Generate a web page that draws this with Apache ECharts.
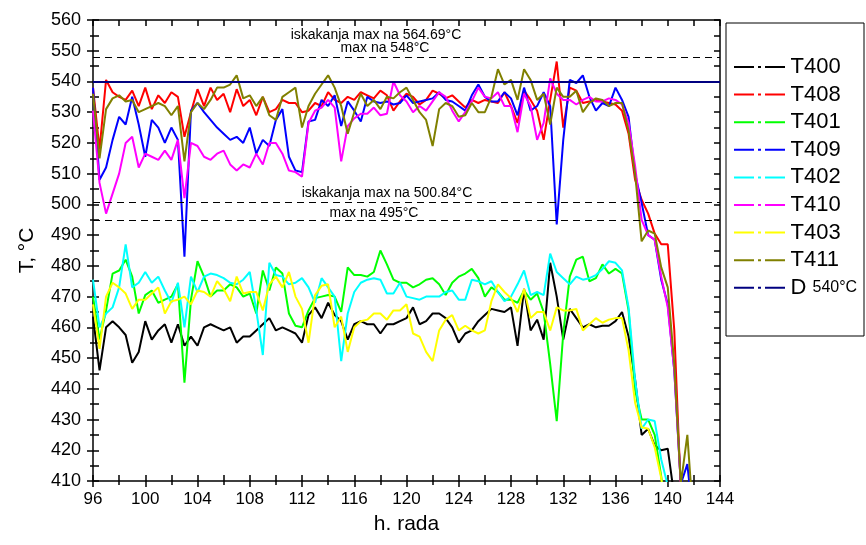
<!DOCTYPE html>
<html>
<head>
<meta charset="utf-8">
<script src="https://cdn.jsdelivr.net/npm/echarts@6/dist/echarts.min.js"></script>
<style>
  html, body { margin: 0; padding: 0; background: #fff; }
  #chart { width: 866px; height: 545px; }
</style>
</head>
<body>
<div id="chart"></div>
<script>
// hours of operation (x)
const hours = [
  96, 96.5, 97, 97.5, 98, 98.5, 99, 99.5, 100, 100.5,
  101, 101.5, 102, 102.5, 103, 103.5, 104, 104.5, 105, 105.5,
  106, 106.5, 107, 107.5, 108, 108.5, 109, 109.5, 110, 110.5,
  111, 111.5, 112, 112.5, 113, 113.5, 114, 114.5, 115, 115.5,
  116, 116.5, 117, 117.5, 118, 118.5, 119, 119.5, 120, 120.5,
  121, 121.5, 122, 122.5, 123, 123.5, 124, 124.5, 125, 125.5,
  126, 126.5, 127, 127.5, 128, 128.5, 129, 129.5, 130, 130.5,
  131, 131.5, 132, 132.5, 133, 133.5, 134, 134.5, 135, 135.5,
  136, 136.5, 137, 137.5, 138, 138.5, 139, 139.5, 140, 140.5,
  141, 141.5, 142
]

const t400 = [
  463.5, 446, 460, 462, 460, 457.5, 448.5, 452, 462, 456,
  459, 461, 455, 461, 454, 457, 454, 460, 461, 460,
  459, 460, 455, 457, 457, 459, 461, 463, 459, 460,
  459, 458, 455, 464, 466.5, 463, 468, 464, 462, 456,
  461, 462, 461, 461, 458, 461, 461, 462, 463, 466.5,
  461, 462, 464.5, 464.5, 463, 460, 455, 458, 459, 462,
  464, 466, 465.5, 465, 466.5, 454, 472.5, 459, 462.5, 456,
  481, 470, 456, 466, 463, 460, 461, 460, 460.5, 460.5,
  462, 465, 457, 443, 425, 427, 421.5, 420, 420.5, 405,
  395, null, null
]
const t408 = [
  538, 518, 540.5, 536.5, 535, 534, 537, 532, 538, 531,
  535.5, 533, 536.5, 535, 522, 530, 537.5, 532, 538, 534,
  536, 530, 537.5, 532, 534, 529, 535, 530, 531, 534,
  533, 533, 530, 530.5, 533, 532, 536.5, 534, 533, 535,
  534, 536.5, 535.5, 534.5, 537, 535.5, 530.5, 533.5, 536, 535,
  532.5, 534, 537, 536, 534.5, 535.5, 533.5, 531.5, 534, 533,
  534, 533.5, 533, 536.5, 532, 526.5, 537, 534, 530.5, 521,
  534, 546.5, 525, 538, 537, 533, 533.5, 534, 533.5, 533,
  532.5, 530.5, 523, 508, 501.5, 497, 490.5, 487, 487, 459,
  407, 385, null
]
const t401 = [
  470, 456, 465.5, 477.5, 478.5, 482, 476.5, 464.5, 470.5, 472,
  468, 469, 470, 474, 442, 469, 481.5, 476.5, 470, 472,
  472, 474, 473, 470, 471, 464.5, 478.5, 472, 479.5, 477.5,
  464.5, 460.5, 460, 465.5, 469.5, 470, 470.5, 470, 465, 479.5,
  477, 477, 476.5, 478, 485, 480.5, 475.5, 474.5, 474.5, 473,
  474, 475.5, 476, 474, 470.5, 474.5, 476.5, 477.5, 479, 476,
  470, 473, 471.5, 469, 469, 468, 472, 469, 471, 465,
  448, 429.5, 458, 476.5, 482, 483, 475, 476, 480.5, 477.5,
  479, 477.5, 465.5, 439.5, 430, 430, 425, 411.5, 395, null,
  null, null, null
]
const t409 = [
  538, 508, 512, 521, 528.5, 526, 535, 526, 515.5, 527.5,
  525, 520, 525, 521, 483, 530.5, 533, 530, 527.5, 525,
  523, 521, 522, 520, 525, 516.5, 521, 519, 527.5, 531,
  515.5, 511, 510.5, 527, 527.5, 534, 532, 535.5, 525.5, 533.5,
  530.5, 527, 535, 533.5, 533, 533.5, 532.5, 533, 535.5, 533,
  533.5, 534, 534.5, 536.5, 534, 533.5, 532, 530.5, 535.5, 539,
  535, 533.5, 533.5, 536.5, 534.5, 529, 538, 530.5, 532, 536.5,
  532, 493.5, 521, 540.5, 539.5, 542, 535, 530.5, 533, 532,
  538, 534, 528.5, 510, 500.5, 490, 488.5, 475.5, 467.5, 446,
  409, 415.5, 395
]
const t402 = [
  475.5, 460, 464.5, 466.5, 473, 487, 473, 474.5, 478, 474.5,
  476.5, 472, 468, 474.5, 460, 476.5, 471.5, 476.5, 477.5, 477,
  476, 474.5, 474, 475.5, 478, 465.5, 451, 481, 477, 476.5,
  474, 474.5, 476, 473, 468, 476, 473, 470, 449, 464.5,
  471.5, 474.5, 475.5, 476, 475.5, 471, 471, 474.5, 470, 469.5,
  469, 470, 470, 470, 471.5, 472, 469, 469, 475.5, 475,
  474, 475, 471.5, 468.5, 470, 474, 478.5, 470.5, 471.5, 470.5,
  484, 478, 476, 474, 476.5, 475.5, 476, 477, 479, 481.5,
  481, 478.5, 466.5, 443, 427, 430, 429.5, 417, 408.5, 395,
  null, null, null
]
const t410 = [
  530.5, 507, 497, 503.5, 510, 520, 522, 512, 516.5, 515.5,
  514.5, 517.5, 514.5, 521, 502, 520, 519, 515.5, 514.5, 516.5,
  517.5, 513, 511, 513, 512, 516.5, 513, 520, 520, 516.5,
  511, 510.5, 509, 526.5, 530.5, 531.5, 534, 531.5, 514, 525.5,
  528, 529.5, 529.5, 531.5, 529, 529.5, 540, 535.5, 533.5, 530,
  532, 530.5, 533.5, 536.5, 535, 530.5, 527, 530, 533.5, 538,
  535, 534.5, 536.5, 532, 532, 523.5, 536, 532, 521, 526.5,
  541, 536, 534, 534, 532.5, 534, 535, 533.5, 533.5, 534.5,
  534, 532.5, 526.5, 512.5, 495, 490, 488.5, 476.5, 466.5, 446,
  409, 395, null
]
const t403 = [
  467.5, 453, 470, 474.5, 473, 471, 466, 469, 469, 471,
  473, 464.5, 468.5, 469, 470, 467.5, 472, 471.5, 470, 475,
  472.5, 468.5, 476.5, 471, 471.5, 471.5, 465.5, 474, 476.5, 473,
  478, 470, 466, 455, 470.5, 473.5, 474, 460, 463.5, 452,
  460, 462, 462.5, 464.5, 464.5, 462.5, 465.5, 465.5, 467.5, 458,
  457, 452, 449, 459, 462.5, 464, 459, 460.5, 459, 458,
  459, 468.5, 474, 471.5, 469.5, 465, 472.5, 463, 465, 465,
  459, 466.5, 465.5, 465.5, 466, 459, 461, 463, 461.5, 462.5,
  463, 463, 452.5, 435.5, 427.5, 427, 421, 411, 395, null,
  null, null, null
]
const t411 = [
  536, 515, 531, 534.5, 535.5, 533.5, 534, 530, 531, 532,
  533, 532, 529, 532, 514, 530, 533, 531, 534, 538,
  538, 539, 542, 534.5, 535.5, 532, 535, 529, 527.5, 535,
  536.5, 538, 525, 532, 536, 539, 542, 538, 532, 523,
  530, 536, 532, 534, 531, 535, 534.5, 536.5, 538, 534,
  530, 527.5, 519, 531, 533, 532, 528.5, 529, 533, 530,
  530, 535, 544, 539, 540.5, 534, 544, 540.5, 534, 536,
  526, 538, 535, 535, 537, 530, 533, 534.5, 534, 532,
  533, 533, 524, 510, 488, 491.5, 490.5, 479.5, 473, 448,
  409, 425, 395
]

// design temperature and the dashed limit lines
const designTemp = 540
const limitLines = [548, 500.84, 495]
const notes = ['iskakanja max na 564.69°C', 'max na 548°C', 'iskakanja max na 500.84°C', 'max na 495°C']

const seriesDefs = [
  { name: 'T400', data: t400, color: '#000000' },
  { name: 'T408', data: t408, color: '#ff0000' },
  { name: 'T401', data: t401, color: '#00ff00' },
  { name: 'T409', data: t409, color: '#0000ff' },
  { name: 'T402', data: t402, color: '#00ffff' },
  { name: 'T410', data: t410, color: '#ff00ff' },
  { name: 'T403', data: t403, color: '#ffff00' },
  { name: 'T411', data: t411, color: '#808000' }
]

const font = 'Liberation Sans, Arial, sans-serif'
const chart = echarts.init(document.getElementById('chart'))

const xBase = { type: 'value', min: 96, max: 144, interval: 4, splitLine: { show: false } }
const yBase = { type: 'value', min: 410, max: 560, interval: 10, splitLine: { show: false } }
const frameLine = { show: true, onZero: false, lineStyle: { color: '#000', width: 1.5 } }
const tickStyle = { color: '#000', width: 1.5 }

const series = seriesDefs.map(s => ({
  name: s.name,
  type: 'line',
  data: hours.map((h, i) => [h, s.data[i]]),
  showSymbol: false,
  symbol: 'none',
  color: s.color,
  lineStyle: { color: s.color, width: 2 },
  clip: true
}))

series.push({
  name: 'D',
  type: 'line',
  data: [],
  color: '#000080',
  markLine: {
    silent: true,
    symbol: 'none',
    label: { show: false },
    data: [
      { yAxis: designTemp, lineStyle: { color: '#000080', width: 2, type: 'solid' } }
    ].concat(limitLines.map(v => ({
      yAxis: v,
      lineStyle: { color: '#000', width: 1, type: [7, 5] }
    })))
  }
})

const noteStyle = text => ({ text: text, font: '14px ' + font, fill: '#000', textAlign: 'center', textVerticalAlign: 'middle' })

const option = {
  animation: false,
  backgroundColor: '#fff',
  grid: { left: 93, right: 146, top: 20, bottom: 64 },
  legend: {
    data: ['T400', 'T408', 'T401', 'T409', 'T402', 'T410', 'T403', 'T411', 'D'],
    orient: 'vertical',
    left: 726,
    top: 22,
    padding: [34, 4, 18, 8],
    itemGap: 5.6,
    itemWidth: 52,
    itemHeight: 2,
    icon: 'path://M0,0H20V2H0Z M24,0H27V2H24Z M31,0H51V2H31Z',
    borderWidth: 0,
    selectedMode: false,
    formatter: name => name === 'D' ? 'D {s|540°C}' : name,
    textStyle: {
      fontFamily: font,
      fontSize: 22,
      lineHeight: 22,
      color: '#000',
      rich: { s: { fontFamily: font, fontSize: 16, color: '#000' } }
    }
  },
  xAxis: [
    Object.assign({}, xBase, {
      position: 'bottom',
      axisLine: frameLine,
      axisTick: { inside: true, length: 6, lineStyle: tickStyle },
      minorTick: { show: true, splitNumber: 2, length: 6, lineStyle: tickStyle },
      axisLabel: { fontFamily: font, fontSize: 17, color: '#000', margin: 10 },
      name: 'h. rada',
      nameLocation: 'middle',
      nameGap: 33,
      nameTextStyle: { fontFamily: font, fontSize: 21, color: '#000' }
    }),
    Object.assign({}, xBase, {
      position: 'bottom',
      axisLine: { show: false, onZero: false },
      axisTick: { inside: false, length: 6, lineStyle: tickStyle },
      minorTick: { show: true, splitNumber: 2, length: 4, lineStyle: tickStyle },
      axisLabel: { show: false }
    }),
    Object.assign({}, xBase, {
      position: 'top',
      axisLine: frameLine,
      axisTick: { inside: true, length: 6, lineStyle: tickStyle },
      minorTick: { show: true, splitNumber: 2, length: 6, lineStyle: tickStyle },
      axisLabel: { show: false }
    })
  ],
  yAxis: [
    Object.assign({}, yBase, {
      position: 'left',
      axisLine: frameLine,
      axisTick: { inside: true, length: 6, lineStyle: tickStyle },
      minorTick: { show: true, splitNumber: 2, length: 6, lineStyle: tickStyle },
      axisLabel: { fontFamily: font, fontSize: 18, color: '#000', margin: 12 },
      name: 'T, °C',
      nameLocation: 'middle',
      nameGap: 55,
      nameTextStyle: { fontFamily: font, fontSize: 21, color: '#000' }
    }),
    Object.assign({}, yBase, {
      position: 'left',
      axisLine: { show: false, onZero: false },
      axisTick: { inside: false, length: 6, lineStyle: tickStyle },
      minorTick: { show: true, splitNumber: 2, length: 3, lineStyle: tickStyle },
      axisLabel: { show: false }
    }),
    Object.assign({}, yBase, {
      position: 'right',
      axisLine: frameLine,
      axisTick: { inside: true, length: 6, lineStyle: tickStyle },
      minorTick: { show: true, splitNumber: 2, length: 6, lineStyle: tickStyle },
      axisLabel: { show: false }
    })
  ],
  graphic: [
    // legend frame
    { type: 'rect', shape: { x: 726, y: 23, width: 138, height: 313 }, style: { fill: 'none', stroke: '#000', lineWidth: 1 }, silent: true },
    { type: 'text', x: 376, y: 35, style: noteStyle(notes[0]) },
    { type: 'text', x: 385, y: 48, style: noteStyle(notes[1]) },
    { type: 'text', x: 387, y: 193, style: noteStyle(notes[2]) },
    { type: 'text', x: 374, y: 213, style: noteStyle(notes[3]) }
  ],
  series: series
}

chart.setOption(option)
</script>
</body>
</html>
